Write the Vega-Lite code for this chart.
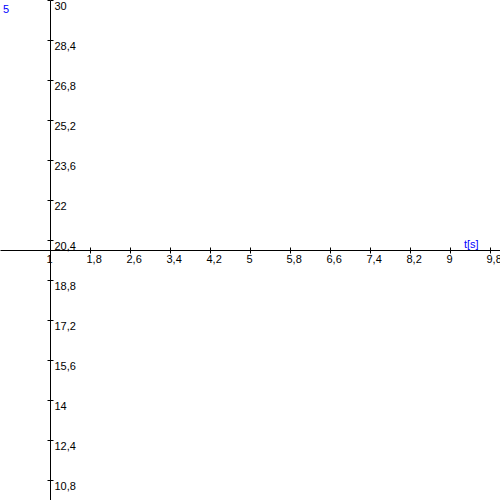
{
  "$schema": "https://vega.github.io/schema/vega-lite/v6.json",
  "width": 500,
  "height": 500,
  "autosize": "none",
  "padding": 0,
  "background": "white",
  "config": {"view": {"stroke": null}},
  "data": {"values": [
    {"x": 9.28, "y": 20.08, "label": "t[s]"},
    {"x": 0.06, "y": 29.48, "label": "5"}
  ]},
  "layer": [
    {
      "mark": {"type": "text", "align": "left", "baseline": "alphabetic", "font": "Liberation Sans", "fontSize": 11, "color": "#0000ff"},
      "encoding": {
        "x": {"field": "x", "type": "quantitative", "scale": {"domain": [0, 10], "nice": false, "zero": false},
          "axis": {"orient": "bottom", "offset": -250, "values": [1, 1.8, 2.6, 3.4, 4.2, 5, 5.8, 6.6, 7.4, 8.2, 9, 9.8],
            "labelExpr": "replace(toString(datum.value), '.', ',')", "grid": false, "title": null,
            "domainColor": "black", "domainWidth": 1, "tickColor": "black", "tickWidth": 1, "tickSize": 3,
            "labelFont": "Liberation Sans", "labelFontSize": 11, "labelColor": "black", "labelAlign": "left", "labelOffset": -4,
            "labelBaseline": "alphabetic", "labelPadding": 9, "labelOverlap": false, "labelFlush": false, "labelBound": false}},
        "y": {"field": "y", "type": "quantitative", "scale": {"domain": [10, 30], "nice": false, "zero": false},
          "axis": {"orient": "right", "offset": -450, "values": [10.8, 12.4, 14, 15.6, 17.2, 18.8, 20.4, 22, 23.6, 25.2, 26.8, 28.4, 30],
            "labelExpr": "replace(toString(datum.value), '.', ',')", "grid": false, "title": null,
            "domainColor": "black", "domainWidth": 1, "tickColor": "black", "tickWidth": 1, "tickSize": 3,
            "labelFont": "Liberation Sans", "labelFontSize": 11, "labelColor": "black", "labelAlign": "left",
            "labelBaseline": "alphabetic", "labelOffset": 9, "labelPadding": 1, "labelOverlap": false, "labelFlush": false, "labelBound": false}},
        "text": {"field": "label", "type": "nominal"}
      }
    },
    {
      "mark": {"type": "point", "opacity": 0},
      "encoding": {
        "x": {"field": "x", "type": "quantitative",
          "axis": {"orient": "bottom", "offset": -250, "values": [1.8, 2.6, 3.4, 4.2, 5, 5.8, 6.6, 7.4, 8.2, 9, 9.8],
            "labels": false, "domain": false, "grid": false, "title": null, "tickColor": "black", "tickWidth": 1, "tickSize": -3}},
        "y": {"field": "y", "type": "quantitative",
          "axis": {"orient": "right", "offset": -450, "values": [10.8, 12.4, 14, 15.6, 17.2, 18.8, 20.4, 22, 23.6, 25.2, 26.8, 28.4, 30],
            "labels": false, "domain": false, "grid": false, "title": null, "tickColor": "black", "tickWidth": 1, "tickSize": -3}}
      }
    }
  ],
  "resolve": {"axis": {"x": "independent", "y": "independent"}}
}
